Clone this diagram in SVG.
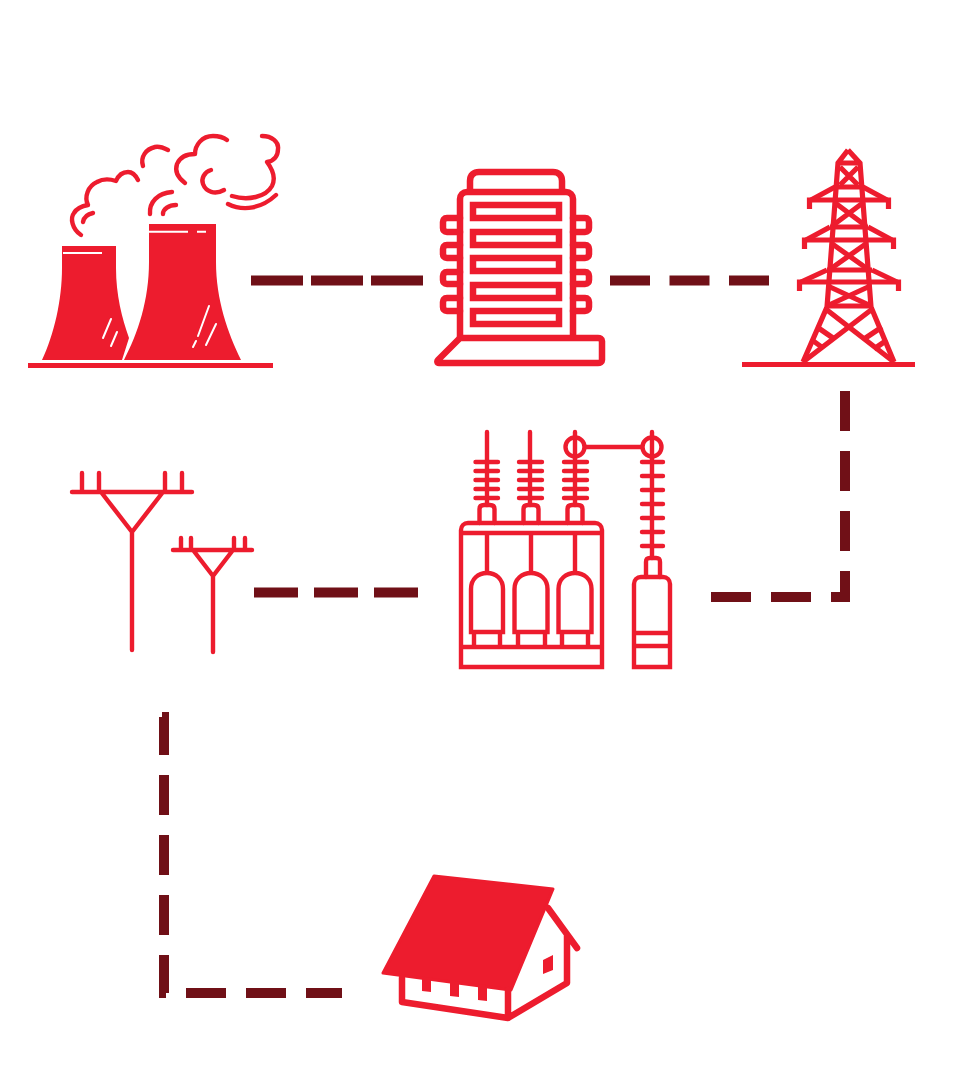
<svg xmlns="http://www.w3.org/2000/svg" width="960" height="1080" viewBox="0 0 960 1080">
<style>
.c{fill:none;stroke:#701017;stroke-width:10;stroke-linejoin:miter}
.s{fill:none;stroke:#ed1c2e;stroke-linecap:round;stroke-linejoin:round}
.t{stroke-width:4.400}
.m{stroke-width:6.500}
.p{stroke-width:5.200;stroke-linecap:butt;stroke-linejoin:miter}
.b{stroke-linecap:butt;stroke-linejoin:miter}
.f{fill:#ed1c2e}
.w{fill:none;stroke:#fff;stroke-width:2}
</style>
<rect width="960" height="1080" fill="#fff"/>
<g id="connectors">
<path class="c" d="M251 280.500H423" stroke-dasharray="52 8"/>
<path class="c" d="M610 280.500H770" stroke-dasharray="40 19.500"/>
<path class="c" d="M845 391V597H711" stroke-dasharray="40 20"/>
<path class="c" d="M254 592.500H418" stroke-dasharray="44 16"/>
<path class="c" d="M164 717V993H342" stroke-dasharray="40 20" stroke-dashoffset="2"/>
<rect x="162" y="712" width="7" height="6" fill="#701017"/>
</g>
<g id="power-plant">
<rect class="f" x="28" y="363" width="245" height="5"/>
<path class="f" d="M62 246H116V268C116 295 122 318 129 338L122 360H42C54 335 62 300 62 268Z"/>
<path class="f" d="M149 224H216V262C216 300 228 333 241 360H124C138 333 149 300 149 262Z"/>
<path class="w" d="M63 253H102M149 231.700H188M197 231.700H206"/>
<path class="w" stroke-linecap="round" d="M111 319L103 338M117 332L111 346M209 306L198 336M216 324L206 345M196 341L193 347"/>
<path class="s t" d="M81 235C72 229 70 218 74 213C77 208 82 206 88 205C84 197 88 186 97 182C104 178 110 179 116 181C119 174 124 172 128 172C133 172 136 176 138 180"/>
<path class="s t" d="M83 222C84 217 88 214 93 213"/>
<path class="s t" d="M143 166C140 157 146 149 155 147C160 146 164 148 168 150"/>
<path class="s t" d="M150 214C149 202 158 193 172 192"/>
<path class="s t" d="M163 214C163 209 169 205 176 205"/>
<path class="s t" d="M185 183C177 177 175 170 177 164C180 157 187 154 195 154C195 145 202 136 213 136C219 136 223 137 227 140"/>
<path class="s t" d="M262 136C272 136 279 142 278 149C278 156 274 161 267 162C273 170 276 178 272 186C266 197 248 201 232 196"/>
<path class="s t" d="M228 204C244 212 262 208 276 195"/>
<path class="s t" d="M211 170C204 172 201 179 203 184C206 192 215 195 224 190"/>
</g>
<g id="generator">
<path class="s m" d="M470 190V181C470 175 474 172 479 172H553C558 172 562 175 562 181V190"/>
<path class="s m" d="M460 337V199C460 195 463 192 467 192H566C570 192 573 195 573 199V337"/>
<rect class="s m b" x="473" y="205" width="86" height="13"/>
<rect class="s m b" x="473" y="232" width="86" height="13"/>
<rect class="s m b" x="473" y="258" width="86" height="13"/>
<rect class="s m b" x="473" y="285" width="86" height="13"/>
<rect class="s m b" x="473" y="311" width="86" height="13"/>
<path class="s m" d="M460 218H447C444 218 443 220 443 222V228C443 230 444 232 447 232H460M460 245H447C444 245 443 247 443 249V254C443 256 444 258 447 258H460M460 272H447C444 272 443 274 443 276V280C443 282 444 284 447 284H460M460 298H447C444 298 443 300 443 302V307C443 309 444 311 447 311H460"/>
<path class="s m" d="M573 218H585C588 218 589 220 589 222V228C589 230 588 232 585 232H573M573 245H585C588 245 589 247 589 249V254C589 256 588 258 585 258H573M573 272H585C588 272 589 274 589 276V280C589 282 588 284 585 284H573M573 298H585C588 298 589 300 589 302V307C589 309 588 311 585 311H573"/>
<path class="s m" d="M460 338H598C600 338 602 339 602 341V360C602 362 600 363 598 363H439C437 363 437 361 438 360Z"/>
</g>
<g id="pylon">
<rect class="f" x="742" y="362" width="173" height="5"/>
<path class="s p" d="M848 150L838 163L827 307L803 362M848 150L860 163L871 307L894 362M838 163H860M835 187H863M830 227H868M827 270H872M827 306H871"/>
<path class="s p" d="M840 167L858 185M858 167L840 185M834 202L866 226M864 202L832 226M831 243L869 270M867 243L829 270M829 305L868 287M869 305L830 287M827 310L894 362M871 310L803 362"/>
<path class="s p" d="M817 327L833 338M812 340L823 348M882 327L864 339M887 340L874 349"/>
<path class="s p" d="M811 200L835 187M887 200L863 187M806 240L830 227M892 240L868 227M801 282L827 270M897 282L872 270"/>
<path class="s p" d="M809.500 209V200H888.500V209M804.500 249V240H893.500V249M799.500 291V282H898.500V291"/>
</g>
<g id="substation">
<path class="s t" d="M487 432V505M530 432V505M575 432V505M652 432V558"/>
<path class="s t" d="M475.500 462H498M475.500 471H498M475.500 480H498M475.500 489H498M475.500 498H498M519 462H542M519 471H542M519 480H542M519 489H542M519 498H542M564 462H587M564 471H587M564 480H587M564 489H587M564 498H587"/>
<path class="s t" d="M642 462H663M642 476H663M642 490H663M642 504H663M642 518H663M642 532H663M642 546H663"/>
<circle class="s t" cx="575" cy="447" r="9.500"/>
<circle class="s t" cx="652" cy="447" r="9.500"/>
<path class="s t" d="M585 447H642"/>
<path class="s t" d="M479.500 523V509C479.500 506 481 505 484 505H490C493 505 494.500 506 494.500 509V523M523.500 523V509C523.500 506 525 505 528 505H534C537 505 538.500 506 538.500 509V523M567.500 523V509C567.500 506 569 505 572 505H578C581 505 582.500 506 582.500 509V523"/>
<path class="s t b" d="M461 667V530C461 526 464 523 468 523H595C599 523 602 526 602 530V667ZM461 533H602M461 647H602"/>
<path class="s t b" d="M487 533V573M531 533V573M575 533V573"/>
<path class="s t b" d="M471 632V589C471 579 478 573 487 573C496 573 503 579 503 589V632ZM514.500 632V589C514.500 579 522 573 531 573C540 573 547.500 579 547.500 589V632ZM558.500 632V589C558.500 579 566 573 575 573C584 573 591.500 579 591.500 589V632Z"/>
<path class="s t b" d="M474 632V647M500 632V647M518 632V647M545 632V647M562 632V647M588 632V647"/>
<path class="s t" d="M646 577V562C646 559 647 558 650 558H656C659 558 660 559 660 562V577"/>
<path class="s t b" d="M634 667V584C634 580 637 577 641 577H663C667 577 670 580 670 584V667ZM634 633H670M634 646H670"/>
</g>
<g id="poles">
<path class="s t" d="M72 492H192M82 473V492M99 473V492M165 473V492M182 473V492M101 492L132 532L163 492M132 532V650"/>
<path class="s t" d="M173 550H252M181 538V550M191 538V550M234 538V550M245 538V550M193 550L213 576L233 550M213 576V652"/>
</g>
<g id="house">
<path class="f" d="M434 876L553 889L511 990L383 973Z" stroke="#ed1c2e" stroke-width="3" stroke-linejoin="round"/>
<path class="s m" d="M402 978V1002L508 1018L567 983V936M508 990V1018M548 908L577 948"/>
<path class="f" d="M422 979H431V992L422 991ZM450 983H459V997L450 996ZM478 986H487V1001L478 1000ZM543 960L553 955V970L543 974Z"/>
</g>
</svg>
